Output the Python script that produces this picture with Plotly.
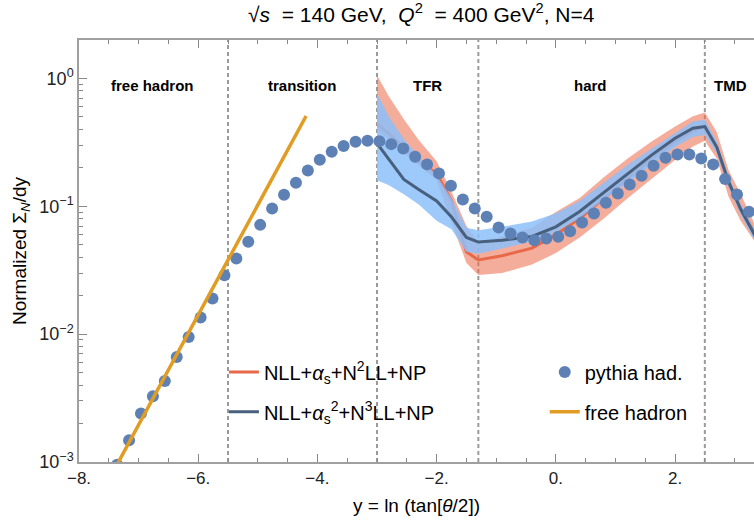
import plotly.graph_objects as go

# ---------------- data ----------------
pythia_x = [-7.36, -7.16, -6.96, -6.76, -6.56, -6.36, -6.16, -5.96, -5.76, -5.56,
            -5.36, -5.16, -4.96, -4.76, -4.56, -4.36, -4.16, -3.96, -3.76, -3.56,
            -3.36, -3.16, -2.96, -2.76, -2.56, -2.36, -2.16, -1.96, -1.76, -1.56,
            -1.36, -1.16, -0.96, -0.76, -0.56, -0.36, -0.16, 0.04, 0.24, 0.44,
            0.64, 0.84, 1.04, 1.24, 1.44, 1.64, 1.84, 2.04, 2.24, 2.44,
            2.64, 2.84, 3.04, 3.24]
pythia_y = [0.00095, 0.00148, 0.00239, 0.00327, 0.0043, 0.00663, 0.00951, 0.0135, 0.019, 0.0289,
            0.0391, 0.0527, 0.0715, 0.0961, 0.1228, 0.1524, 0.1905, 0.2307, 0.2665, 0.2953,
            0.319, 0.325, 0.323, 0.306, 0.283, 0.2435, 0.2125, 0.1807, 0.1445, 0.113,
            0.0961, 0.0826, 0.0683, 0.0612, 0.057, 0.0543, 0.056, 0.0577, 0.0638, 0.0747,
            0.0879, 0.1063, 0.1259, 0.1482, 0.173, 0.207, 0.239, 0.254, 0.254, 0.2366,
            0.2125, 0.163, 0.1236, 0.0904]

free_x = [-7.42, -4.19]
free_y = [0.00085, 0.508]

theory_x = [-3.0, -2.8, -2.55, -2.3, -2.0, -1.75, -1.5, -1.3, -0.9, -0.4, 0.0,
            0.4, 0.8, 1.2, 1.6, 2.0, 2.3, 2.5, 2.7, 2.9, 3.1, 3.35]

n2ll_mid = [0.44, 0.37, 0.29, 0.225, 0.18, 0.11, 0.044, 0.038, 0.041, 0.047, 0.06,
            0.08, 0.115, 0.165, 0.235, 0.32, 0.39, 0.415, 0.29, 0.15, 0.097, 0.06]
n2ll_lo = [0.39, 0.33, 0.26, 0.21, 0.16, 0.075, 0.036, 0.029, 0.030, 0.035, 0.043,
           0.057, 0.080, 0.115, 0.163, 0.23, 0.293, 0.325, 0.235, 0.118, 0.077, 0.052]
n2ll_hi = [1.06, 0.72, 0.48, 0.33, 0.225, 0.13, 0.07, 0.052, 0.058, 0.068, 0.09,
           0.116, 0.168, 0.235, 0.32, 0.42, 0.505, 0.54, 0.38, 0.19, 0.125, 0.07]

n3ll_mid = [0.31, 0.23, 0.162, 0.135, 0.11, 0.0826, 0.057, 0.0525, 0.0543, 0.058, 0.069,
            0.091, 0.127, 0.18, 0.25, 0.34, 0.407, 0.42, 0.29, 0.155, 0.095, 0.058]
n3ll_lo = [0.16, 0.146, 0.124, 0.103, 0.077, 0.066, 0.044, 0.0425, 0.0468, 0.053, 0.063,
           0.081, 0.112, 0.152, 0.21, 0.29, 0.35, 0.36, 0.26, 0.14, 0.086, 0.052]
n3ll_hi = [0.76, 0.50, 0.335, 0.244, 0.175, 0.115, 0.068, 0.065, 0.069, 0.076, 0.088,
           0.110, 0.152, 0.21, 0.28, 0.37, 0.46, 0.475, 0.32, 0.17, 0.105, 0.063]

region_x = [-6.77, -4.26, -2.15, 0.59, 2.93]
region_labels = ["free hadron", "transition", "TFR", "hard", "TMD"]
boundaries = [-5.5, -3.0, -1.3, 2.5]

x_tickvals = [-8, -6, -4, -2, 0, 2]
x_ticktext = ["\u22128.", "\u22126.", "\u22124.", "\u22122.", "0.", "2."]
y_tickvals = [0.001, 0.01, 0.1, 1]
y_ticktext = ["10<sup>\u22123</sup>", "10<sup>\u22122</sup>", "10<sup>\u22121</sup>", "10<sup>0</sup>"]

# ---------------- styles ----------------
C_PYTHIA = "#5E81B5"
C_FREE = "#E19C24"
C_RED = "rgb(232,104,74)"
C_BLUE = "rgb(72,95,125)"
RED_FILL = "rgba(236,112,82,0.58)"
BLUE_FILL = "rgba(140,192,250,0.85)"
FONT = "Liberation Sans, Arial, sans-serif"
GRID = "#a0a0a0"

fig = go.Figure()

# N2LL band + line
fig.add_trace(go.Scatter(x=theory_x, y=n2ll_lo, mode="lines", line=dict(width=0),
                         showlegend=False, hoverinfo="skip"))
fig.add_trace(go.Scatter(x=theory_x, y=n2ll_hi, mode="lines", line=dict(width=0),
                         fill="tonexty", fillcolor=RED_FILL, showlegend=False, hoverinfo="skip"))
fig.add_trace(go.Scatter(x=theory_x, y=n2ll_mid, mode="lines",
                         line=dict(color=C_RED, width=3),
                         name="NLL+<i>\u03b1</i><sub>s</sub>+N<sup>2</sup>LL+NP", legend="legend"))
# N3LL band + line
fig.add_trace(go.Scatter(x=theory_x, y=n3ll_lo, mode="lines", line=dict(width=0),
                         showlegend=False, hoverinfo="skip"))
fig.add_trace(go.Scatter(x=theory_x, y=n3ll_hi, mode="lines", line=dict(width=0),
                         fill="tonexty", fillcolor=BLUE_FILL, showlegend=False, hoverinfo="skip"))
fig.add_trace(go.Scatter(x=theory_x, y=n3ll_mid, mode="lines",
                         line=dict(color=C_BLUE, width=3),
                         name="NLL+<i>\u03b1</i><sub>s</sub><sup>2</sup>+N<sup>3</sup>LL+NP", legend="legend2"))
# pythia points
fig.add_trace(go.Scatter(x=pythia_x, y=pythia_y, mode="markers",
                         marker=dict(color=C_PYTHIA, size=12, line=dict(width=0)),
                         name="pythia had.", legend="legend3"))
# free hadron
fig.add_trace(go.Scatter(x=free_x, y=free_y, mode="lines",
                         line=dict(color=C_FREE, width=3.5),
                         name="free hadron", legend="legend4"))

# boundaries
for b in boundaries:
    fig.add_shape(type="line", xref="x", yref="paper", x0=b, x1=b, y0=0, y1=1,
                  line=dict(color="#9a9a9a", width=2, dash="4px,3px"), layer="below")

# region labels
for xv, lab in zip(region_x, region_labels):
    fig.add_annotation(x=xv, y=0.893, xref="x", yref="paper", text="<b>" + lab + "</b>",
                       showarrow=False, font=dict(family=FONT, size=15, color="black"),
                       xanchor="center", yanchor="middle")

leg_common = dict(font=dict(family=FONT, size=20, color="black"), bgcolor="rgba(0,0,0,0)",
                  borderwidth=0, xanchor="left", yanchor="middle", itemwidth=30)

fig.update_layout(
    width=754, height=522,
    margin=dict(l=79, r=0, t=40, b=60),
    paper_bgcolor="white", plot_bgcolor="white",
    font=dict(family=FONT, color="black"),
    title=dict(text="\u221a<i>s</i>  = 140 GeV,  <i>Q</i><sup>2</sup>  = 400 GeV<sup>2</sup>, N=4",
               x=0.507, xref="paper", xanchor="center", y=0.972, yanchor="middle",
               font=dict(family=FONT, size=21, color="black")),
    legend=dict(x=0.2147, y=0.2135, **leg_common),
    legend2=dict(x=0.2147, y=0.119, **leg_common),
    legend3=dict(x=0.690, y=0.2135, **leg_common),
    legend4=dict(x=0.690, y=0.119, **leg_common),
    xaxis=dict(range=[-8, 3.325], showgrid=False, zeroline=False,
               showline=True, linecolor=GRID, linewidth=1.5, mirror="ticks",
               ticks="inside", ticklen=8, tickwidth=1, tickcolor="#888",
               tickmode="array", tickvals=x_tickvals, ticktext=x_ticktext,
               tickfont=dict(family=FONT, size=17, color="#222"),
               minor=dict(ticks="inside", ticklen=4, tickcolor="#888", dtick=0.5, showgrid=False),
               title=dict(text="y = ln (tan[<i>\u03b8</i>/2])", standoff=12,
                          font=dict(family=FONT, size=19, color="black"))),
    yaxis=dict(type="log", range=[-3, 0.30], showgrid=False, zeroline=False,
               showline=True, linecolor=GRID, linewidth=1.5,
               ticks="inside", ticklen=8, tickwidth=1, tickcolor="#888",
               tickmode="array", tickvals=y_tickvals, ticktext=y_ticktext,
               tickfont=dict(family=FONT, size=18, color="#222"),
               minor=dict(ticks="inside", ticklen=4, tickcolor="#888", dtick="D1", showgrid=False),
               title=dict(text="Normalized \u03a3<sub><i>N</i></sub>/dy", standoff=8,
                          font=dict(family=FONT, size=19, color="black"))),
)

fig.write_html("out.html")
